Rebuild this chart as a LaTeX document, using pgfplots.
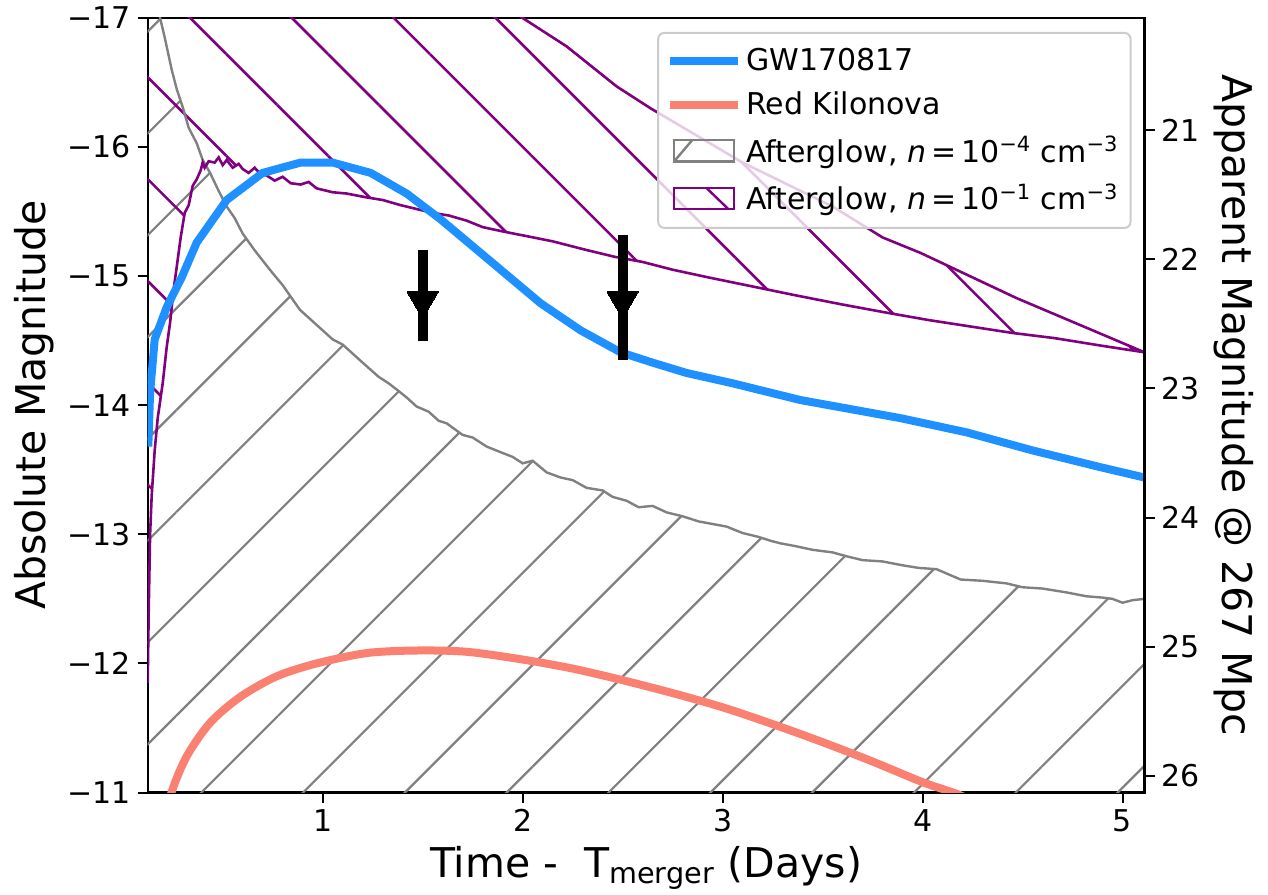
\documentclass[border=0pt]{standalone}
\usepackage{fontspec}
\setmainfont{DejaVu Sans}
\usepackage{pgfplots}
\usepackage{pgfplotstable}
\pgfplotsset{compat=1.18}
\usepgfplotslibrary{fillbetween}
\usetikzlibrary{patterns.meta,calc}

\definecolor{gwblue}{HTML}{1E90FF}
\definecolor{salmon}{HTML}{FA8072}
\definecolor{mplgray}{HTML}{808080}
\definecolor{mplpurple}{HTML}{800080}
\definecolor{legframe}{HTML}{CCCCCC}

% GW170817 light curve (absolute mag)
\pgfplotstableread{
t m
0.128 -13.68
0.137 -14.10
0.160 -14.51
0.220 -14.76
0.295 -14.99
0.370 -15.26
0.520 -15.59
0.700 -15.80
0.890 -15.88
1.050 -15.88
1.240 -15.80
1.420 -15.64
1.590 -15.44
1.790 -15.18
2.090 -14.79
2.290 -14.58
2.490 -14.41
2.650 -14.33
2.820 -14.25
3.050 -14.17
3.390 -14.04
3.890 -13.90
4.220 -13.79
4.550 -13.65
4.890 -13.52
5.110 -13.44
}\gwdata

% red kilonova
\pgfplotstableread{
t m
0.200 -10.70
0.244 -11.00
0.320 -11.28
0.437 -11.54
0.587 -11.74
0.770 -11.90
0.970 -12.00
1.220 -12.08
1.470 -12.10
1.720 -12.09
2.000 -12.03
2.250 -11.96
2.500 -11.87
2.750 -11.77
3.000 -11.66
3.250 -11.53
3.500 -11.39
3.750 -11.24
4.000 -11.08
4.170 -10.99
4.300 -10.90
}\reddata

% afterglow, n = 1e-4
\pgfplotstableread{
t m
0.125 -17.60
0.150 -17.30
0.187 -17.00
0.210 -16.85
0.245 -16.60
0.270 -16.45
0.300 -16.31
0.330 -16.15
0.370 -16.03
0.400 -15.90
0.437 -15.80
0.480 -15.66
0.520 -15.54
0.560 -15.45
0.600 -15.33
0.660 -15.20
0.736 -15.05
0.800 -14.93
0.886 -14.74
0.950 -14.65
1.050 -14.51
1.100 -14.47
1.150 -14.40
1.200 -14.33
1.280 -14.22
1.330 -14.17
1.380 -14.11
1.420 -14.06
1.470 -13.99
1.530 -13.95
1.580 -13.88
1.620 -13.86
1.700 -13.77
1.750 -13.75
1.820 -13.68
1.900 -13.63
1.950 -13.60
2.000 -13.55
2.050 -13.57
2.120 -13.48
2.190 -13.44
2.250 -13.42
2.320 -13.36
2.400 -13.34
2.450 -13.29
2.520 -13.26
2.580 -13.21
2.650 -13.22
2.720 -13.17
2.800 -13.14
2.880 -13.10
2.950 -13.08
3.020 -13.06
3.100 -13.01
3.180 -12.98
3.240 -12.95
3.290 -12.93
3.360 -12.91
3.450 -12.88
3.550 -12.86
3.620 -12.83
3.700 -12.80
3.800 -12.79
3.900 -12.76
3.980 -12.74
4.070 -12.73
4.190 -12.65
4.300 -12.64
4.420 -12.62
4.500 -12.59
4.600 -12.58
4.720 -12.55
4.820 -12.52
4.900 -12.51
4.950 -12.50
5.000 -12.47
5.050 -12.49
5.110 -12.50
}\graydata

% afterglow, n = 1e-1 (lower edge)
\pgfplotstableread{
t m
0.125 -11.85
0.130 -12.40
0.137 -13.00
0.145 -13.30
0.160 -13.65
0.175 -13.90
0.200 -14.17
0.220 -14.45
0.237 -14.64
0.255 -14.90
0.270 -15.07
0.290 -15.30
0.310 -15.49
0.330 -15.55
0.350 -15.70
0.370 -15.75
0.390 -15.82
0.400 -15.88
0.410 -15.84
0.430 -15.89
0.460 -15.88
0.480 -15.92
0.500 -15.86
0.520 -15.90
0.550 -15.84
0.580 -15.87
0.600 -15.83
0.630 -15.80
0.660 -15.84
0.690 -15.79
0.720 -15.78
0.760 -15.74
0.800 -15.77
0.840 -15.72
0.890 -15.71
0.930 -15.73
0.970 -15.68
1.050 -15.65
1.120 -15.64
1.220 -15.61
1.300 -15.59
1.390 -15.55
1.470 -15.52
1.550 -15.49
1.630 -15.47
1.720 -15.43
1.800 -15.38
1.890 -15.35
2.020 -15.31
2.150 -15.27
2.300 -15.21
2.460 -15.15
2.600 -15.11
2.750 -15.05
2.930 -14.99
3.150 -14.92
3.370 -14.85
3.600 -14.78
3.810 -14.72
4.030 -14.66
4.240 -14.61
4.450 -14.56
4.660 -14.52
4.900 -14.46
5.110 -14.41
}\purpledata

% afterglow, n = 1e-1 (upper edge)
\pgfplotstableread{
t m
0.125 -19.80
1.000 -18.30
1.500 -17.60
2.000 -17.00
2.220 -16.78
2.470 -16.47
2.640 -16.30
3.100 -15.88
3.550 -15.54
3.800 -15.30
3.990 -15.18
4.470 -14.83
5.110 -14.41
}\upperdata

\pgfplotsset{
  magaxis/.style={
    width=498.4pt, height=387.25pt, scale only axis,
    xmin=0.125, xmax=5.11, y dir=reverse,
    axis line style={line width=1.2pt},
    every tick/.style={black, line width=1pt},
    major tick length=5pt, tick align=outside,
    tick label style={font=\fontsize{15}{18}\selectfont},
    label style={font=\fontsize{20.5}{24}\selectfont},
    /pgf/number format/assume math mode=true,
  },
  legline/.style={legend image code/.code={\draw[##1] (0pt,0pt) -- (34pt,0pt);}},
  leggray/.style={legend image code/.code={\draw[##1, sharp corners] (2pt,-5.3pt) rectangle (32pt,5.3pt);
    \draw[##1] (2pt,-5.3pt) -- (11pt,5.3pt);}},
  legpurple/.style={legend image code/.code={\draw[##1, sharp corners] (2pt,-5.3pt) rectangle (32pt,5.3pt);
    \draw[##1] (18pt,5.3pt) -- (29pt,-5.3pt);}},
}

\begin{document}
\begin{tikzpicture}
\begin{axis}[magaxis, name=ax,
  ymin=-17, ymax=-11,
  ytick={-17,-16,-15,-14,-13,-12,-11},
  yticklabels={−17,−16,−15,−14,−13,−12,−11},
  xtick={1,2,3,4,5},
  xtick pos=left, ytick pos=left,
  xlabel={Time -\ \ T\textsubscript{merger} (Days)},
  ylabel={Absolute Magnitude},
  legend cell align=left,
  legend style={at={(0.987,0.982)}, anchor=north east,
    draw=legframe, line width=1pt, rounded corners=3pt,
    fill=white, fill opacity=0.8, draw opacity=1, text opacity=1,
    font=\fontsize{15}{18}\selectfont, row sep=5.3pt,
    inner xsep=4pt, inner ysep=5.5pt},
]
% afterglow n=1e-4: hatched region below the curve
\addplot[name path=G, mplgray, line width=1.2pt, forget plot] table {\graydata};
\addplot[name path=B, draw=none, forget plot] coordinates {(0.125,-10.5) (5.11,-10.5)};
\addplot[draw=none, pattern={Lines[angle=45,distance=36pt,line width=1.1pt,xshift=-1pt]},
  pattern color=mplgray, forget plot] fill between[of=G and B];

% afterglow n=1e-1: hatched band
\addplot[name path=P, mplpurple, line width=1.3pt, forget plot] table {\purpledata};
\addplot[name path=U, mplpurple, line width=1.3pt, forget plot] table {\upperdata};
\addplot[draw=none, pattern={Lines[angle=-45,distance=36pt,line width=1.3pt,xshift=24pt]},
  pattern color=mplpurple, forget plot] fill between[of=P and U];

\addplot[gwblue, line width=4pt, line join=round, forget plot] table {\gwdata};
\addplot[salmon, line width=4pt, smooth, forget plot] table {\reddata};

% upper limits
\addplot[black, line width=5pt, forget plot] coordinates {(1.5,-15.20) (1.5,-14.50)};
\addplot[black, line width=5pt, forget plot] coordinates {(2.5,-15.32) (2.5,-14.35)};
\addplot[only marks, mark=triangle*, mark size=9pt,
  mark options={rotate=180, fill=black, draw=black, line width=0pt}, forget plot]
  coordinates {(1.5,-14.81) (2.5,-14.81)};

\addlegendimage{gwblue, line width=4pt, legline}
\addlegendentry{GW170817}
\addlegendimage{salmon, line width=4pt, legline}
\addlegendentry{Red Kilonova}
\addlegendimage{mplgray, line width=1.2pt, leggray}
\addlegendentry{Afterglow, \textit{n}\,=\,10\textsuperscript{−4} cm\textsuperscript{−3}}
\addlegendimage{mplpurple, line width=1.2pt, legpurple}
\addlegendentry{Afterglow, \textit{n}\,=\,10\textsuperscript{−1} cm\textsuperscript{−3}}
\end{axis}

\begin{axis}[magaxis,
  ymin=20.13, ymax=26.13,
  axis y line*=right, axis x line=none,
  ytick={21,22,23,24,25,26},
  ylabel={Apparent Magnitude @ 267 Mpc},
  ylabel style={rotate=180},
]
\end{axis}

\pgfresetboundingbox
\path[use as bounding box] ($(ax.south west)+(-73.85pt,-50.75pt)$) rectangle ($(ax.north east)+(61.75pt,9pt)$);
\end{tikzpicture}
\end{document}
